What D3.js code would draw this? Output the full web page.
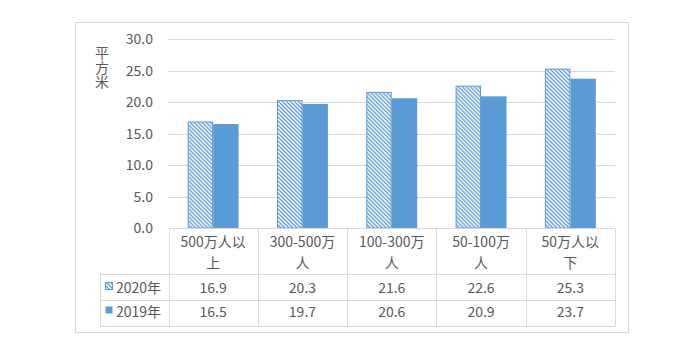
<!DOCTYPE html>
<html><head><meta charset="utf-8">
<script src="https://cdn.jsdelivr.net/npm/d3@7"></script>
<style>html,body{margin:0;padding:0;background:#fff;}svg{display:block;}</style>
</head><body>
<svg id="c" width="693" height="351"></svg>
<script>
const categories = ["500万人以上", "300-500万人", "100-300万人", "50-100万人", "50万人以下"];
const seriesNames = ["2020年", "2019年"];
const values2020 = [16.9, 20.3, 21.6, 22.6, 25.3];
const values2019 = [16.5, 19.7, 20.6, 20.9, 23.7];
const yTicks = [0, 5, 10, 15, 20, 25, 30];
const yTitle = "平方米";

const svg = d3.select("#c");
const font = "'Noto Sans CJK SC','Noto Sans',sans-serif";
const txt = "#595959", grid = "#d9d9d9", blue = "#5b9bd5";

const defs = svg.append("defs");
const pat = defs.append("pattern").attr("id","hatch").attr("patternUnits","userSpaceOnUse")
  .attr("width",4).attr("height",4);
pat.append("rect").attr("width",4).attr("height",4).attr("fill","#fff");
pat.append("path").attr("d","M-1,-1L5,5M-1,3L1,5M3,-1L5,1").attr("stroke",blue).attr("stroke-width",1.3);

// outer frame
svg.append("rect").attr("x",75.5).attr("y",22.5).attr("width",553).attr("height",310)
  .attr("fill","#fff").attr("stroke",grid);

const x0 = d3.scaleBand().domain(categories).range([168.5, 615]).paddingInner(0.43).paddingOuter(0.215);
const x1 = d3.scaleBand().domain(seriesNames).range([0, x0.bandwidth()]);
const y = d3.scaleLinear().domain([0, 30]).range([228, 39]);

// gridlines
svg.append("g").selectAll("line").data(yTicks.filter(d=>d>0)).join("line")
  .attr("x1",168.5).attr("x2",615).attr("y1",d=>Math.round(y(d))+0.5).attr("y2",d=>Math.round(y(d))+0.5)
  .attr("stroke",grid);

// y axis labels
const yAxis = d3.axisLeft(y).tickValues(yTicks).tickFormat(d3.format(".1f")).tickSize(0).tickPadding(0);
const ga = svg.append("g").attr("transform","translate(153,0)").call(yAxis);
ga.select(".domain").remove();
ga.selectAll("text").attr("fill",txt).style("font-family",font).style("font-size","14px").attr("dy","0.35em");

// y title vertical (single text, vertical writing mode)
svg.append("text").attr("x",102).attr("y",46)
  .style("writing-mode","vertical-rl").style("letter-spacing","0.5px")
  .attr("fill",txt).style("font-family",font).style("font-size","14px").text(yTitle);

// bars
const data = categories.map((c,i)=>({c, vals:[{s:"2020年",v:values2020[i]},{s:"2019年",v:values2019[i]}]}));
const gBars = svg.append("g").selectAll("g").data(data).join("g")
  .attr("transform",d=>`translate(${x0(d.c)},0)`);
gBars.selectAll("rect").data(d=>d.vals).join("rect")
  .attr("x",d=>x1(d.s)+(d.s==="2020年"?0.5:0)).attr("y",d=>y(d.v)+(d.s==="2020年"?0.5:0))
  .attr("width",d=>x1.bandwidth()-(d.s==="2020年"?1:0))
  .attr("height",d=>y(0)-y(d.v)-(d.s==="2020年"?0.5:0))
  .attr("fill",d=>d.s==="2020年"?"url(#hatch)":blue)
  .attr("stroke",d=>d.s==="2020年"?blue:"none").attr("stroke-width",1);

// data table
const colEdges = [168.5].concat(categories.map((c,i)=>168.5+(615-168.5)/categories.length*(i+1)));
const tl = svg.append("g").attr("stroke",grid).attr("fill","none");
tl.append("line").attr("x1",168.5).attr("x2",615).attr("y1",228.5).attr("y2",228.5);
[274.5, 300.5, 326.5].forEach(yy=>tl.append("line").attr("x1",100).attr("x2",615).attr("y1",yy).attr("y2",yy));
colEdges.forEach(xx=>tl.append("line").attr("x1",Math.round(xx)+0.5).attr("x2",Math.round(xx)+0.5).attr("y1",228.5).attr("y2",326.5));
tl.append("line").attr("x1",100.5).attr("x2",100.5).attr("y1",274.5).attr("y2",326.5);

const colCenter = c => x0(c) + x0.bandwidth()/2;
const tg = svg.append("g").style("font-family",font).style("font-size","14px").attr("fill",txt).attr("text-anchor","middle");
categories.forEach(c=>{
  const lines = [c.slice(0,-1), c.slice(-1)];
  lines.forEach((l,i)=>tg.append("text").attr("x",colCenter(c)).attr("y",247+i*21).text(l));
});
const rows = [{s:"2020年", v:values2020, y:293}, {s:"2019年", v:values2019, y:317}];
rows.forEach(r=>{
  categories.forEach((c,i)=>tg.append("text").attr("x",colCenter(c)).attr("y",r.y).text(r.v[i].toFixed(1)));
  tg.append("text").attr("x",116).attr("y",r.y).attr("text-anchor","start").text(r.s);
  svg.append("rect").attr("x",105.5).attr("y",r.y-10.5).attr("width",7).attr("height",7)
    .attr("fill",r.s==="2020年"?"url(#hatch)":blue).attr("stroke",r.s==="2020年"?blue:"none");
});
</script>
</body></html>
